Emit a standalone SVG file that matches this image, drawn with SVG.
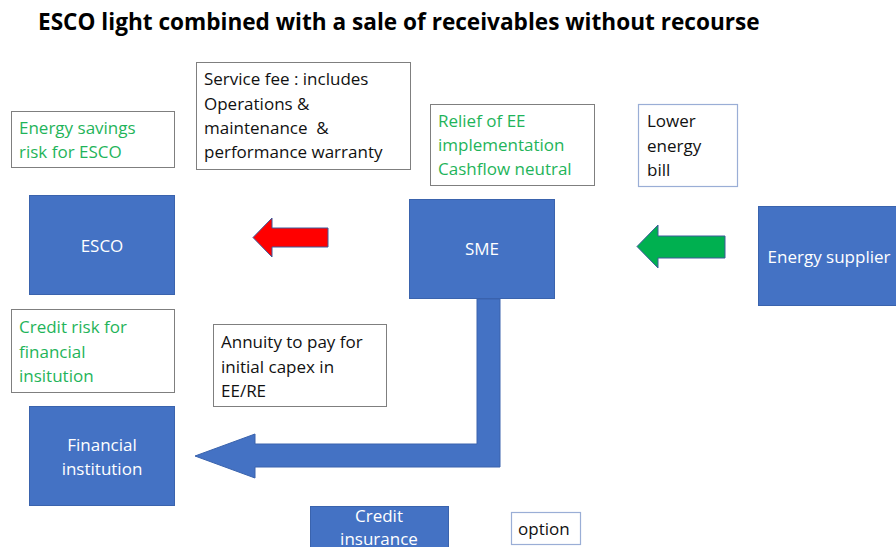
<svg xmlns="http://www.w3.org/2000/svg" width="896" height="547" viewBox="0 0 896 547">
  <style>
    text { font-family: "Open Sans", "Liberation Sans", sans-serif; }
    .title { font-size: 22.6px; font-weight: bold; fill: #000; }
    .note { fill: #fff; stroke: #7f7f7f; stroke-width: 1; }
    .note-blue { fill: #fff; stroke: #9aaed6; stroke-width: 1.2; }
    .txt { font-size: 17px; fill: #111; }
    .green { font-size: 17px; fill: #1fb45a; }
    .entity { fill: #4472c4; stroke: #3a63ad; stroke-width: 1; }
    .label { font-size: 17px; fill: #fff; text-anchor: middle; }
  </style>

  <text class="title" x="38" y="30">ESCO light combined with a sale of receivables without recourse</text>

  <!-- annotation boxes -->
  <g id="energy-savings-risk">
    <rect class="note" x="11.5" y="111.5" width="163" height="56"/>
    <text class="green" x="19" y="134">Energy savings</text>
    <text class="green" x="19" y="158">risk for ESCO</text>
  </g>
  <g id="service-fee">
    <rect class="note" x="196.5" y="62.5" width="214" height="107"/>
    <text class="txt" x="204" y="85">Service fee : includes</text>
    <text class="txt" x="204" y="110">Operations &amp;</text>
    <text class="txt" x="204" y="134" xml:space="preserve">maintenance  &amp;</text>
    <text class="txt" x="204" y="158">performance warranty</text>
  </g>
  <g id="relief">
    <rect class="note" x="430.5" y="104.5" width="164" height="81"/>
    <text class="green" x="438" y="127">Relief of EE</text>
    <text class="green" x="438" y="151">implementation</text>
    <text class="green" x="438" y="175">Cashflow neutral</text>
  </g>
  <g id="lower-bill">
    <rect class="note-blue" x="638.5" y="104.5" width="99" height="82"/>
    <text class="txt" x="647" y="127">Lower</text>
    <text class="txt" x="647" y="152">energy</text>
    <text class="txt" x="647" y="176">bill</text>
  </g>
  <g id="credit-risk">
    <rect class="note" x="11.5" y="309.5" width="163" height="83"/>
    <text class="green" x="19" y="333">Credit risk for</text>
    <text class="green" x="19" y="358">financial</text>
    <text class="green" x="19" y="382">insitution</text>
  </g>
  <g id="annuity">
    <rect class="note" x="213.5" y="324.5" width="173" height="82"/>
    <text class="txt" x="221" y="348">Annuity to pay for</text>
    <text class="txt" x="221" y="373">initial capex in</text>
    <text class="txt" x="221" y="397">EE/RE</text>
  </g>
  <g id="option">
    <rect class="note-blue" x="511.5" y="512.5" width="69" height="32"/>
    <text class="txt" x="518" y="535">option</text>
  </g>

  <!-- parties -->
  <g id="esco">
    <rect class="entity" x="29.5" y="195.5" width="145" height="99"/>
    <text class="label" x="102" y="252">ESCO</text>
  </g>
  <g id="sme">
    <rect class="entity" x="409.5" y="199.5" width="145" height="99"/>
    <text class="label" x="482" y="255">SME</text>
  </g>
  <g id="energy-supplier">
    <rect class="entity" x="758.5" y="206.5" width="150" height="99"/>
    <text class="label" x="829" y="263">Energy supplier</text>
  </g>
  <g id="financial-institution">
    <rect class="entity" x="29.5" y="406.5" width="145" height="99"/>
    <text class="label" x="102" y="451">Financial</text>
    <text class="label" x="102" y="475">institution</text>
  </g>
  <g id="credit-insurance">
    <rect class="entity" x="310.5" y="506.5" width="138" height="50"/>
    <text class="label" x="379" y="522">Credit</text>
    <text class="label" x="379" y="545">insurance</text>
  </g>

  <!-- flows -->
  <g id="connectors">
    <path d="M328,228 L272,228 L272,218 L253,237.5 L272,257 L272,247 L328,247 Z" fill="#ff0000" stroke="#3d5a9a" stroke-width="1"/>
    <path d="M725,236 L658,236 L658,225 L637,246.5 L658,268 L658,258 L725,258 Z" fill="#00b050" stroke="#3d5a9a" stroke-width="1"/>
    <path d="M477,299 L477,444 L255,444 L255,434 L195,456 L255,478 L255,467 L500,467 L500,299 Z" fill="#4472c4" stroke="#3a63ad" stroke-width="1"/>
  </g>
</svg>
